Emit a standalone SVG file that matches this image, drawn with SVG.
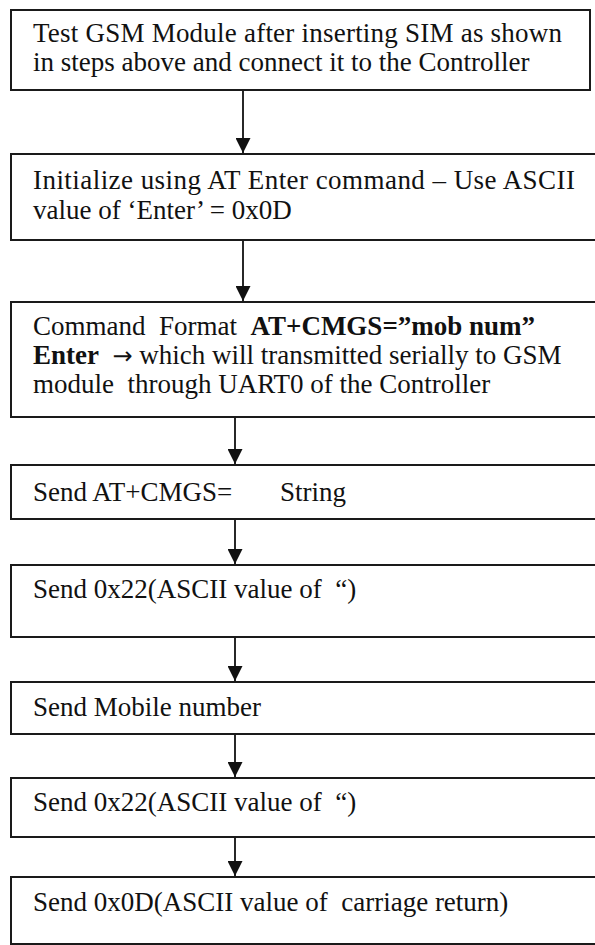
<svg xmlns="http://www.w3.org/2000/svg" width="595" height="945" viewBox="0 0 595 945">
  <defs>
    <style>
      .box { fill: #ffffff; stroke: #1a1a1a; stroke-width: 2; }
      text { font-family: 'Liberation Serif', 'Times New Roman', 'DejaVu Serif', serif; font-size: 27px; fill: #111111; }
      .b { font-weight: bold; }
      .sym { font-family: 'DejaVu Sans', sans-serif; font-size: 24px; }
      .link { stroke: #111111; stroke-width: 1.8; fill: none; marker-end: url(#head); }
    </style>
    <marker id="head" viewBox="0 0 15 15" refX="15" refY="7.5" markerWidth="15" markerHeight="15" markerUnits="userSpaceOnUse" orient="auto">
      <path d="M0,0 L15,7.5 L0,15 Z" fill="#111111"/>
    </marker>
  </defs>
  <rect width="595" height="945" fill="#ffffff"/>

  <!-- process steps -->
  <g id="step-test">
    <rect class="box" x="11" y="10" width="579" height="80"/>
    <text x="33" y="42" textLength="529" lengthAdjust="spacing">Test GSM Module after inserting SIM as shown</text>
    <text x="33" y="71">in steps above and connect it to the Controller</text>
  </g>

  <g id="step-init">
    <rect class="box" x="11" y="154" width="595" height="86"/>
    <text x="33" y="189" textLength="542" lengthAdjust="spacing">Initialize using  AT Enter command – Use ASCII</text>
    <text x="33" y="219">value of ‘Enter’ = 0x0D</text>
  </g>

  <g id="step-format">
    <rect class="box" x="11" y="302" width="595" height="115"/>
    <text x="33" y="335" xml:space="preserve">Command  Format  <tspan class="b">AT+CMGS=”mob num”</tspan></text>
    <text x="33" y="364" xml:space="preserve"><tspan class="b">Enter</tspan>  <tspan class="sym">→</tspan> which will transmitted serially to GSM</text>
    <text x="33" y="393" xml:space="preserve">module  through UART0 of the Controller</text>
  </g>

  <g id="step-send-cmd">
    <rect class="box" x="11" y="465" width="595" height="54"/>
    <text x="33" y="501">Send AT+CMGS=</text>
    <text x="280" y="501">String</text>
  </g>

  <g id="step-send-quote-1">
    <rect class="box" x="11" y="565" width="595" height="72"/>
    <text x="33" y="598" xml:space="preserve">Send 0x22(ASCII value of  “)</text>
  </g>

  <g id="step-send-number">
    <rect class="box" x="11" y="682" width="595" height="52"/>
    <text x="33" y="716">Send Mobile number</text>
  </g>

  <g id="step-send-quote-2">
    <rect class="box" x="11" y="778" width="595" height="59"/>
    <text x="33" y="811" xml:space="preserve">Send 0x22(ASCII value of  “)</text>
  </g>

  <g id="step-send-cr">
    <rect class="box" x="11" y="877" width="595" height="67"/>
    <text x="33" y="911" xml:space="preserve">Send 0x0D(ASCII value of  carriage return)</text>
  </g>

  <!-- connectors -->
  <g id="connectors">
    <line class="link" x1="243" y1="91" x2="243" y2="153"/>
    <line class="link" x1="243" y1="241" x2="243" y2="301"/>
    <line class="link" x1="235" y1="418" x2="235" y2="464"/>
    <line class="link" x1="235" y1="520" x2="235" y2="564"/>
    <line class="link" x1="235" y1="638" x2="235" y2="681"/>
    <line class="link" x1="235" y1="735" x2="235" y2="777"/>
    <line class="link" x1="235" y1="838" x2="235" y2="876"/>
  </g>
</svg>
